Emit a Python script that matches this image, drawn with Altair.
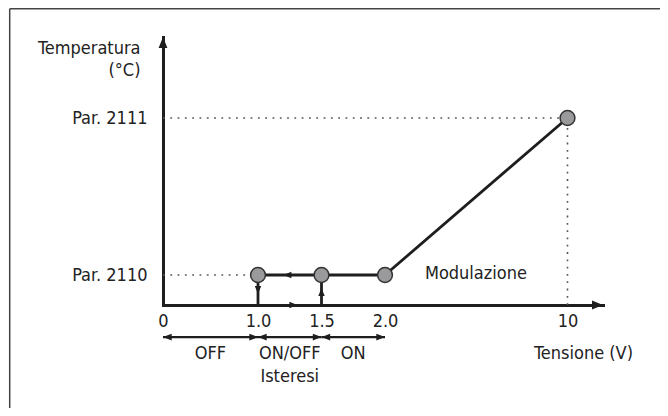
import altair as alt
import pandas as pd

FONT = "DejaVu Sans Condensed"
INK = "#1e1e1e"
TXT = "#222222"

# ---- data ----
x_ticks = [0, 1.0, 1.5, 2.0, 10]
x_tick_labels = ["0", "1.0", "1.5", "2.0", "10"]
y_ticks = [1, 2]
y_tick_labels = ["Par. 2110", "Par. 2111"]

point_x = [1.0, 1.5, 2.0, 10]
point_y = [1, 1, 1, 2]

solid_x = [1.0, 2.0, 1.0, 1.5]
solid_y = [1, 1, 0, 0]
solid_x2 = [2.0, 10, 1.0, 1.5]
solid_y2 = [1, 2, 1, 1]

dotted_x = [0, 0, 10]
dotted_y = [1, 2, 0]
dotted_x2 = [1.0, 10, 10]
dotted_y2 = [1, 2, 2]

band_start = [0, 1.0, 1.5]
band_end = [1.0, 1.5, 2.0]
band_labels = ["OFF", "ON/OFF", "ON"]
band_level = -1.07
band_label_level = -1.63
hyst_label = "Isteresi"
hyst_x = 1.25
hyst_level = -2.4

flow_x = [1.2, 1.31, 1.0, 1.5]
flow_y = [1, 0, 0.37, 0.57]
flow_dir = ["left", "right", "down", "up"]

axis_end_x = 12
axis_end_y = 2.5

mod_label = "Modulazione"
mod_x = 3.75
mod_y = 1.0

# ---- scales / axes ----
xscale = alt.Scale(domain=[0, 1, 1.5, 2, 10, axis_end_x],
                   range=[0, 95, 158.5, 222, 404.5, 440], nice=False, zero=False)
yscale = alt.Scale(domain=[0, 1, 2, axis_end_y],
                   range=[268, 238, 81, 0], nice=False, zero=False)


def label_expr(vals, labels):
    return " : ".join(f"datum.value == {v} ? '{l}'" for v, l in zip(vals, labels)) + " : ''"


xaxis = alt.Axis(values=x_ticks, labelExpr=label_expr(x_ticks, x_tick_labels),
                 title="Tensione (V)", grid=False, ticks=False, tickSize=0,
                 domainColor=INK, domainWidth=3, domainCap="square",
                 labelFont=FONT, labelFontSize=18, labelColor=TXT, labelPadding=7,
                 labelFlush=False, labelOverlap=False,
                 titleFont=FONT, titleFontSize=18, titleFontWeight="normal", titleColor=TXT,
                 titleX=420, titleY=48, titleBaseline="middle", titleAlign="center")
yaxis = alt.Axis(values=y_ticks, labelExpr=label_expr(y_ticks, y_tick_labels),
                 title=["Temperatura", "(°C)"], grid=False, ticks=False, tickSize=0,
                 domainColor=INK, domainWidth=3, domainCap="square",
                 labelFont=FONT, labelFontSize=18, labelColor=TXT, labelPadding=16,
                 labelOverlap=False,
                 titleFont=FONT, titleFontSize=18, titleFontWeight="normal", titleColor=TXT,
                 titleAngle=0, titleAlign="right", titleBaseline="alphabetic",
                 titleX=-23, titleY=16, titleLineHeight=22)


def X(f="x"):
    return alt.X(f"{f}:Q", scale=xscale, axis=xaxis)


def Y(f="y"):
    return alt.Y(f"{f}:Q", scale=yscale, axis=yaxis)


def arrow_paths(w):
    return {
        "right": f"M0,0L-1,-{w}L-1,{w}Z",
        "left": f"M0,0L1,-{w}L1,{w}Z",
        "up": f"M0,0L-{w},1L{w},1Z",
        "down": f"M0,0L-{w},-1L{w},-1Z",
    }


def arrow_shape(w):
    p = arrow_paths(w)
    keys = list(p.keys())
    return alt.Shape("dir:N", scale=alt.Scale(domain=keys, range=[p[k] for k in keys]), legend=None)


# ---- tables ----
solid_df = pd.DataFrame({"x": solid_x, "y": solid_y, "x2": solid_x2, "y2": solid_y2})
dotted_df = pd.DataFrame({"x": dotted_x, "y": dotted_y, "x2": dotted_x2, "y2": dotted_y2})
points_df = pd.DataFrame({"x": point_x, "y": point_y})
flow_df = pd.DataFrame({"x": flow_x, "y": flow_y, "dir": flow_dir})
ends_df = pd.DataFrame({"x": [0, axis_end_x], "y": [axis_end_y, 0], "dir": ["up", "right"]})
band_df = pd.DataFrame({"start": band_start, "end": band_end, "label": band_labels})
band_df["y"] = band_level
band_df["ly"] = band_label_level
band_arrows_df = pd.DataFrame({
    "x": band_start + band_end,
    "dir": ["left"] * len(band_start) + ["right"] * len(band_end),
})
band_arrows_df["y"] = band_level
hyst_df = pd.DataFrame({"x": [hyst_x], "y": [hyst_level], "label": [hyst_label]})
mod_df = pd.DataFrame({"x": [mod_x], "y": [mod_y], "label": [mod_label]})
frame_df = pd.DataFrame({"k": [0]})

# ---- layers ----
frame_left = alt.Chart(frame_df).mark_rule(color="#444", strokeWidth=1.5).encode(
    x=alt.value(-153.3), y=alt.value(-28.3), y2=alt.value(380))
frame_top = alt.Chart(frame_df).mark_rule(color="#444", strokeWidth=1.5).encode(
    x=alt.value(-153.3), x2=alt.value(500), y=alt.value(-28.3))

dotted = alt.Chart(dotted_df).mark_rule(color="#555", strokeWidth=1.6, strokeDash=[1.8, 5.5]).encode(
    x=X(), y=Y(), x2="x2:Q", y2="y2:Q")
solid = alt.Chart(solid_df).mark_rule(color=INK, strokeWidth=2.8).encode(
    x=X(), y=Y(), x2="x2:Q", y2="y2:Q")

band_rules = alt.Chart(band_df).mark_rule(color=INK, strokeWidth=2.2).encode(
    x=X("start"), x2="end:Q", y=Y())
band_arrows = alt.Chart(band_arrows_df).mark_point(filled=True, color=INK, opacity=1, size=300).encode(
    x=X(), y=Y(), shape=arrow_shape(0.4))
band_text = alt.Chart(band_df).transform_calculate(
    mid="(datum.start + datum.end) / 2").mark_text(
    font=FONT, fontSize=18, color=TXT, baseline="middle", align="center").encode(
    x=X("mid"), y=Y("ly"), text="label:N")
hyst_text = alt.Chart(hyst_df).mark_text(
    font=FONT, fontSize=18, color=TXT, baseline="middle", align="center").encode(
    x=X(), y=Y(), text="label:N")
mod_text = alt.Chart(mod_df).mark_text(
    font=FONT, fontSize=18, color=TXT, baseline="middle", align="left", dy=-1).encode(
    x=X(), y=Y(), text="label:N")

flow = alt.Chart(flow_df).mark_point(filled=True, color=INK, opacity=1, size=256).encode(
    x=X(), y=Y(), shape=arrow_shape(0.45))
ends = alt.Chart(ends_df).mark_point(filled=True, color=INK, opacity=1, size=484).encode(
    x=X(), y=Y(), shape=arrow_shape(0.55))

points = alt.Chart(points_df).mark_circle(
    size=220, color="#9a9a9c", stroke="#333333", strokeWidth=1.5, opacity=1).encode(
    x=X(), y=Y())

chart = alt.layer(
    frame_left, frame_top, dotted, solid, band_rules, band_arrows, band_text, hyst_text,
    mod_text, flow, ends, points
).properties(
    width=440, height=268, autosize="none",
    padding={"left": 155, "top": 29, "right": 57, "bottom": 103},
    background="white",
).configure_view(stroke=None)

chart.save("out.html", embed_options={"renderer": "svg", "actions": False})
